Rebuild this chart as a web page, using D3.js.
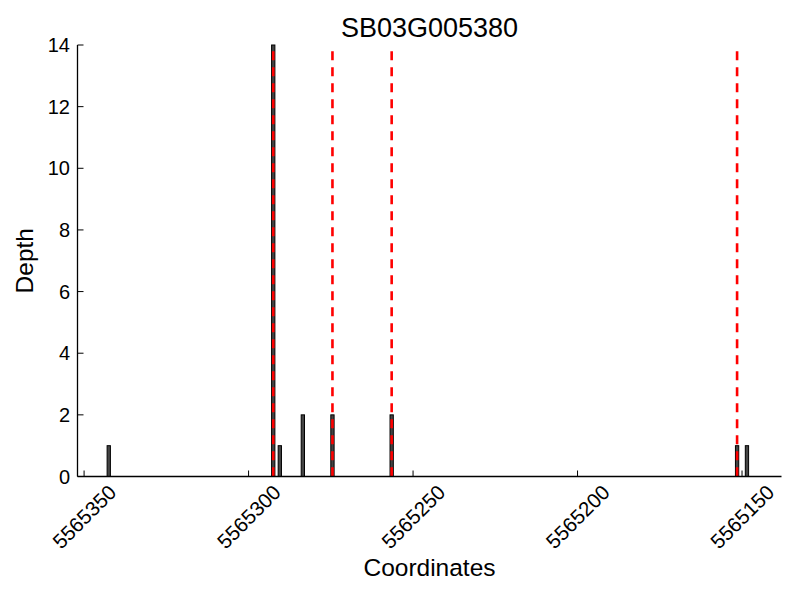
<!DOCTYPE html>
<html>
<head>
<meta charset="utf-8">
<script src="https://cdn.jsdelivr.net/npm/d3@7"></script>
<style>
  body { margin: 0; background: #fff; }
  text { font-family: "Liberation Sans", Arial, sans-serif; fill: #000; }
</style>
</head>
<body>
<svg id="chart" width="800" height="600"></svg>
<script>
const title = "SB03G005380";

// depth per coordinate (bar spans [pos, pos + 1])
const positions = [5565342, 5565292, 5565290, 5565283, 5565274, 5565256, 5565151, 5565148];
const depths = [1, 14, 1, 2, 2, 2, 1, 1];

// red dashed markers
const markers = [5565292.5, 5565274.5, 5565256.5, 5565151.5];
const markerTop = 13.8;

const xTicks = [5565350, 5565300, 5565250, 5565200, 5565150];
const yTicks = [0, 2, 4, 6, 8, 10, 12, 14];

const plotLeft = 77.5, plotRight = 781.5, plotTop = 45, plotBottom = 476.5;

const svg = d3.select('#chart');

const x = d3.scaleLinear()
  .domain([5565352, 5565138])
  .range([plotLeft, plotRight]);

const y = d3.scaleLinear()
  .domain([0, 14])
  .range([plotBottom, plotTop]);

// bars
svg.append('g')
  .selectAll('rect')
  .data(positions)
  .join('rect')
  .attr('x', d => x(d + 1))
  .attr('width', d => x(d) - x(d + 1))
  .attr('y', (d, i) => y(depths[i]))
  .attr('height', (d, i) => y(0) - y(depths[i]))
  .attr('fill', '#444')
  .attr('stroke', '#000')
  .attr('stroke-width', 1);

// dashed lines
svg.append('g')
  .selectAll('line')
  .data(markers)
  .join('line')
  .attr('x1', d => x(d))
  .attr('x2', d => x(d))
  .attr('y1', y(markerTop))
  .attr('y2', y(0))
  .attr('stroke', '#ff0000')
  .attr('stroke-width', 2.6)
  .attr('stroke-dasharray', '9,7');

// spines
svg.append('line')
  .attr('x1', plotLeft).attr('x2', plotLeft)
  .attr('y1', plotTop).attr('y2', plotBottom)
  .attr('stroke', '#000').attr('stroke-width', 1.3);
svg.append('line')
  .attr('x1', plotLeft).attr('x2', plotRight)
  .attr('y1', plotBottom).attr('y2', plotBottom)
  .attr('stroke', '#000').attr('stroke-width', 1.3);

// x ticks (inward)
const xAxis = svg.append('g');
xAxis.selectAll('line')
  .data(xTicks)
  .join('line')
  .attr('x1', d => x(d)).attr('x2', d => x(d))
  .attr('y1', plotBottom).attr('y2', plotBottom - 6)
  .attr('stroke', '#000').attr('stroke-width', 1);
xAxis.selectAll('text')
  .data(xTicks)
  .join('text')
  .attr('transform', d => `translate(${x(d)},${plotBottom + 40}) rotate(-45)`)
  .attr('text-anchor', 'middle')
  .attr('dominant-baseline', 'central')
  .style('font-size', '20.5px')
  .text(d => d);

// y ticks (inward)
const yAxis = svg.append('g');
yAxis.selectAll('line')
  .data(yTicks)
  .join('line')
  .attr('x1', plotLeft).attr('x2', plotLeft + 6)
  .attr('y1', d => y(d)).attr('y2', d => y(d))
  .attr('stroke', '#000').attr('stroke-width', 1);
yAxis.selectAll('text')
  .data(yTicks)
  .join('text')
  .attr('x', plotLeft - 7.5)
  .attr('y', d => y(d))
  .attr('text-anchor', 'end')
  .attr('dominant-baseline', 'central')
  .style('font-size', '20px')
  .text(d => d);

// labels
svg.append('text')
  .attr('x', (plotLeft + plotRight) / 2)
  .attr('y', 37)
  .attr('text-anchor', 'middle')
  .style('font-size', '27px')
  .text(title);

svg.append('text')
  .attr('x', (plotLeft + plotRight) / 2)
  .attr('y', 576)
  .attr('text-anchor', 'middle')
  .style('font-size', '24.5px')
  .text('Coordinates');

svg.append('text')
  .attr('transform', `translate(33,${(plotTop + plotBottom) / 2}) rotate(-90)`)
  .attr('text-anchor', 'middle')
  .style('font-size', '24.5px')
  .text('Depth');
</script>
</body>
</html>
